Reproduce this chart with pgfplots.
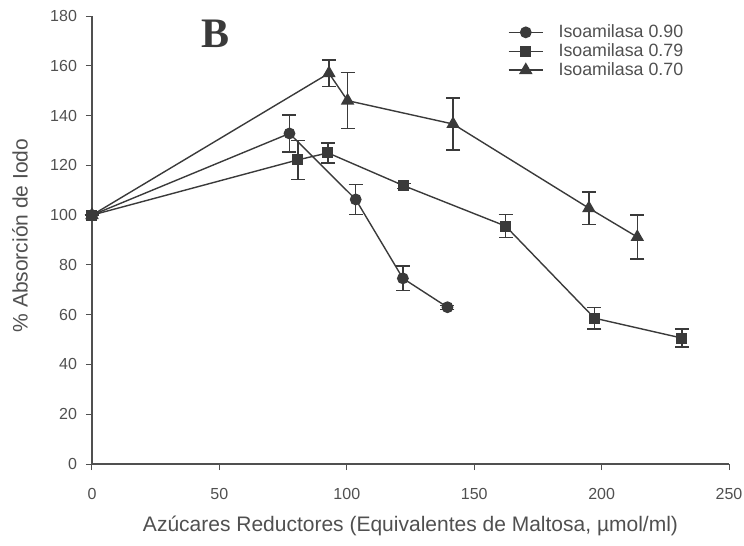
\documentclass[border=0pt]{standalone}
\usepackage{fontspec}
\setmainfont{Liberation Sans}
\newfontfamily\serifbold{Liberation Serif}
\usepackage{pgfplots}
\pgfplotsset{compat=1.18}

\definecolor{ink}{HTML}{3A3A3A}
\definecolor{txt}{HTML}{505050}

\begin{document}
\begin{tikzpicture}
\begin{axis}[
  scale only axis,
  width=318.5pt, height=224pt,
  xmin=0, xmax=250, ymin=0, ymax=180,
  xtick={0,50,...,250},
  ytick={0,20,...,180},
  axis lines*=left,
  tick align=outside,
  major tick length=3pt,
  axis line style={txt, line width=0.6pt},
  tick style={txt, line width=0.5pt},
  /pgf/number format/assume math mode=true,
  ticklabel style={font=\fontsize{8}{9.5}\selectfont, text=txt},
  xticklabel style={yshift=-5.5pt},
  yticklabel style={xshift=-1pt},
  xlabel={Azúcares Reductores (Equivalentes de Maltosa, µmol/ml)},
  ylabel={\% Absorción de Iodo},
  label style={font=\fontsize{10.5}{12}\selectfont, text=txt},
  xlabel style={at={(axis description cs:0.5,-0.138)}, anchor=center},
  ylabel style={at={(axis description cs:-0.113,0.51)}, anchor=center, rotate=0},
  clip=false,
  legend style={draw=none, fill=none, at={(rel axis cs:0.643,1.0)}, anchor=north west,
    font=\fontsize{8.9}{10}\selectfont, text=txt, row sep=-2.5pt,
    nodes={inner xsep=4.5pt},
    /tikz/every odd column/.append style={column sep=3pt}},
  legend cell align=left,
  every axis plot/.append style={ink, line width=0.7pt},
  error bars/error bar style={ink, line width=0.7pt},
  error bars/error mark options={ink, rotate=90, mark size=3.5pt, line width=0.7pt},
]
% Isoamilasa 0.90
\addplot[mark=*, mark size=2.6pt, mark options={fill=ink},
  error bars/.cd, y dir=both, y explicit]
  coordinates {
    (0,100) +- (0,0)
    (77.5,132.8) +- (0,7.5)
    (103.5,106.3) +- (0,6)
    (122,74.6) +- (0,5)
    (139.5,63) +- (0,0.8)
  };
\addlegendentry{Isoamilasa 0.90}
% Isoamilasa 0.79
\addplot[mark=square*, mark size=2.4pt, mark options={fill=ink},
  error bars/.cd, y dir=both, y explicit]
  coordinates {
    (0,100) +- (0,0)
    (80.8,122.2) +- (0,7.8)
    (92.6,125) +- (0,4)
    (122.4,111.8) +- (0,1)
    (162.3,95.6) +- (0,4.6)
    (197.2,58.6) +- (0,4.4)
    (231.5,50.6) +- (0,3.6)
  };
\addlegendentry{Isoamilasa 0.79}
% Isoamilasa 0.70
\addplot[mark=triangle*, mark size=3.2pt, mark options={fill=ink},
  error bars/.cd, y dir=both, y explicit]
  coordinates {
    (0,100) +- (0,0)
    (93,157) +- (0,5.4)
    (100.3,146) +- (0,11.2)
    (141.7,136.6) +- (0,10.5)
    (195,102.8) +- (0,6.5)
    (214,91.2) +- (0,8.8)
  };
\addlegendentry{Isoamilasa 0.70}

\node[font=\serifbold\bfseries\fontsize{21}{24}\selectfont, text=ink] at (axis cs:48.3,173) {B};

\coordinate (bl) at (rel axis cs:-0.1444,-0.1808);
\coordinate (tr) at (rel axis cs:1.0235,1.0357);
\end{axis}
\pgfresetboundingbox
\path[use as bounding box] (bl) rectangle (tr);
\end{tikzpicture}
\end{document}
